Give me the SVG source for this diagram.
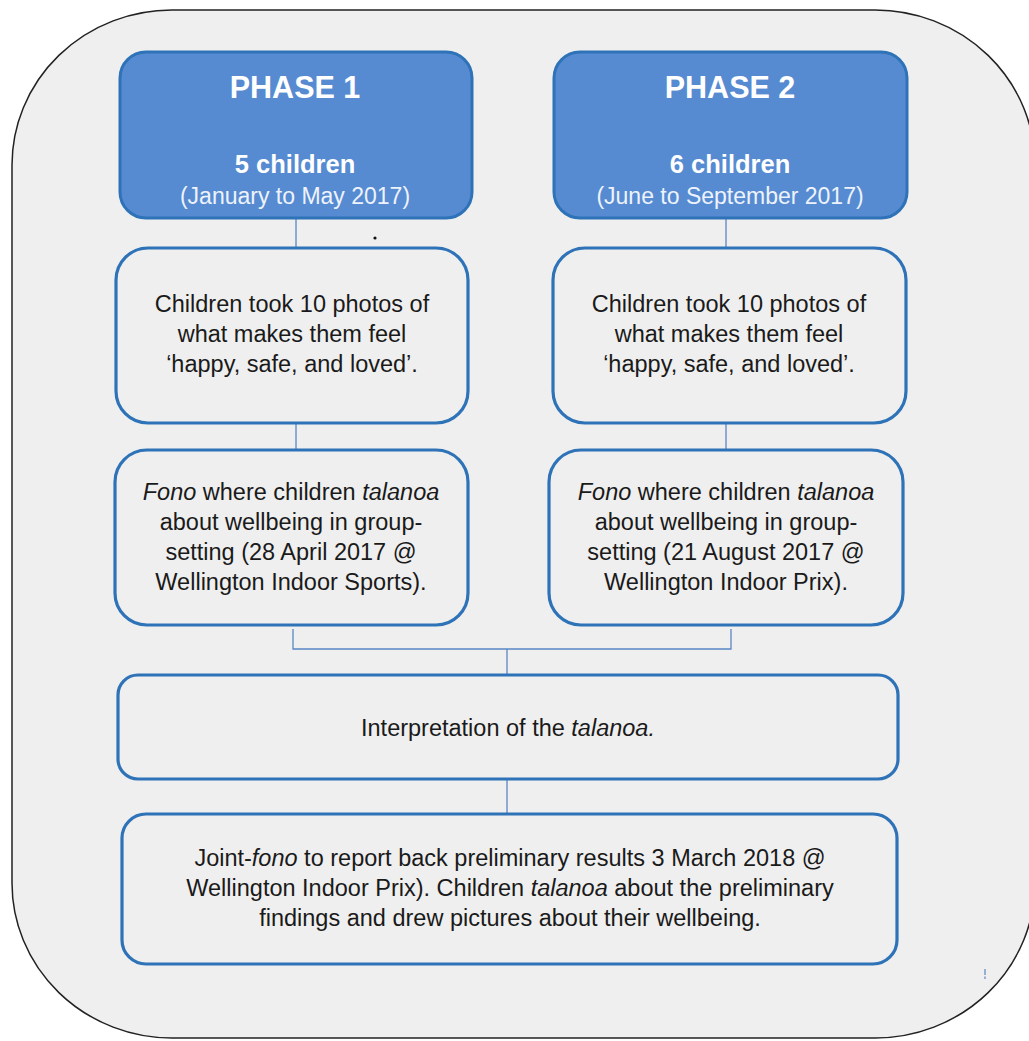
<svg xmlns="http://www.w3.org/2000/svg" width="1029" height="1041" viewBox="0 0 1029 1041">
<style>
.frame{fill:#efefef;stroke:#222;stroke-width:1.5}
.phase{fill:#568bd2;stroke:#2e72b8;stroke-width:3}
.box{fill:#efefef;stroke:#2e72b8;stroke-width:3.2}
.conn{fill:none;stroke:#5a86c4;stroke-width:1.3}
text{font-family:"Liberation Sans",Arial,sans-serif;text-anchor:middle}
.h1{font-size:30.5px;font-weight:bold;fill:#fff}
.h2{font-size:25.5px;font-weight:bold;fill:#fff}
.h3{font-size:23px;fill:#eef3fb}
.body{font-size:23.5px;fill:#1a1a1a}
.it{font-style:italic}
</style>
<rect width="1029" height="1041" fill="#fff"/>
<rect class="frame" x="12" y="10" width="1023" height="1028" rx="160" ry="155"/>

<g id="connectors">
<line class="conn" x1="296" y1="219" x2="296" y2="248"/>
<line class="conn" x1="726" y1="219" x2="726" y2="248"/>
<line class="conn" x1="296" y1="424" x2="296" y2="450"/>
<line class="conn" x1="726" y1="424" x2="726" y2="450"/>
<polyline class="conn" points="293,629 293,649 731,649 731,629"/>
<line class="conn" x1="507" y1="649" x2="507" y2="675"/>
<line class="conn" x1="507" y1="780" x2="507" y2="813"/>
</g>

<g id="phase1">
<rect class="phase" x="120" y="52" width="352" height="166" rx="26"/>
<text class="h1" x="295" y="98">PHASE 1</text>
<text class="h2" x="295" y="173">5 children</text>
<text class="h3" x="295" y="204">(January to May 2017)</text>
</g>

<g id="phase2">
<rect class="phase" x="554" y="52" width="353" height="166" rx="26"/>
<text class="h1" x="730" y="98">PHASE 2</text>
<text class="h2" x="730" y="173">6 children</text>
<text class="h3" x="730" y="204">(June to September 2017)</text>
</g>

<g id="photos1">
<rect class="box" x="116" y="248" width="352" height="175" rx="32"/>
<text class="body" x="292" y="312">Children took 10 photos of</text>
<text class="body" x="292" y="342">what makes them feel</text>
<text class="body" x="292" y="372">‘happy, safe, and loved’.</text>
</g>

<g id="photos2">
<rect class="box" x="553" y="248" width="353" height="175" rx="32"/>
<text class="body" x="729" y="312">Children took 10 photos of</text>
<text class="body" x="729" y="342">what makes them feel</text>
<text class="body" x="729" y="372">‘happy, safe, and loved’.</text>
</g>

<g id="fono1">
<rect class="box" x="115" y="450" width="353" height="175" rx="32"/>
<text class="body" x="291" y="500"><tspan class="it">Fono</tspan> where children <tspan class="it">talanoa</tspan></text>
<text class="body" x="291" y="530">about wellbeing in group-</text>
<text class="body" x="291" y="560">setting (28 April 2017 @</text>
<text class="body" x="291" y="590">Wellington Indoor Sports).</text>
</g>

<g id="fono2">
<rect class="box" x="549" y="450" width="354" height="175" rx="32"/>
<text class="body" x="726" y="500"><tspan class="it">Fono</tspan> where children <tspan class="it">talanoa</tspan></text>
<text class="body" x="726" y="530">about wellbeing in group-</text>
<text class="body" x="726" y="560">setting (21 August 2017 @</text>
<text class="body" x="726" y="590">Wellington Indoor Prix).</text>
</g>

<g id="interpretation">
<rect class="box" x="118" y="675" width="780" height="104" rx="20"/>
<text class="body" x="508" y="736">Interpretation of the <tspan class="it">talanoa.</tspan></text>
</g>

<g id="jointfono">
<rect class="box" x="122" y="814" width="775" height="150" rx="24"/>
<text class="body" x="510" y="866">Joint-<tspan class="it">fono</tspan> to report back preliminary results 3 March 2018 @</text>
<text class="body" x="510" y="896">Wellington Indoor Prix). Children <tspan class="it">talanoa</tspan> about the preliminary</text>
<text class="body" x="510" y="926">findings and drew pictures about their wellbeing.</text>
</g>

<circle cx="375" cy="238" r="1.6" fill="#111"/>
<line x1="985" y1="969" x2="985" y2="979" stroke="#5a86c4" stroke-width="1.2" stroke-dasharray="6 1.5"/>
</svg>
